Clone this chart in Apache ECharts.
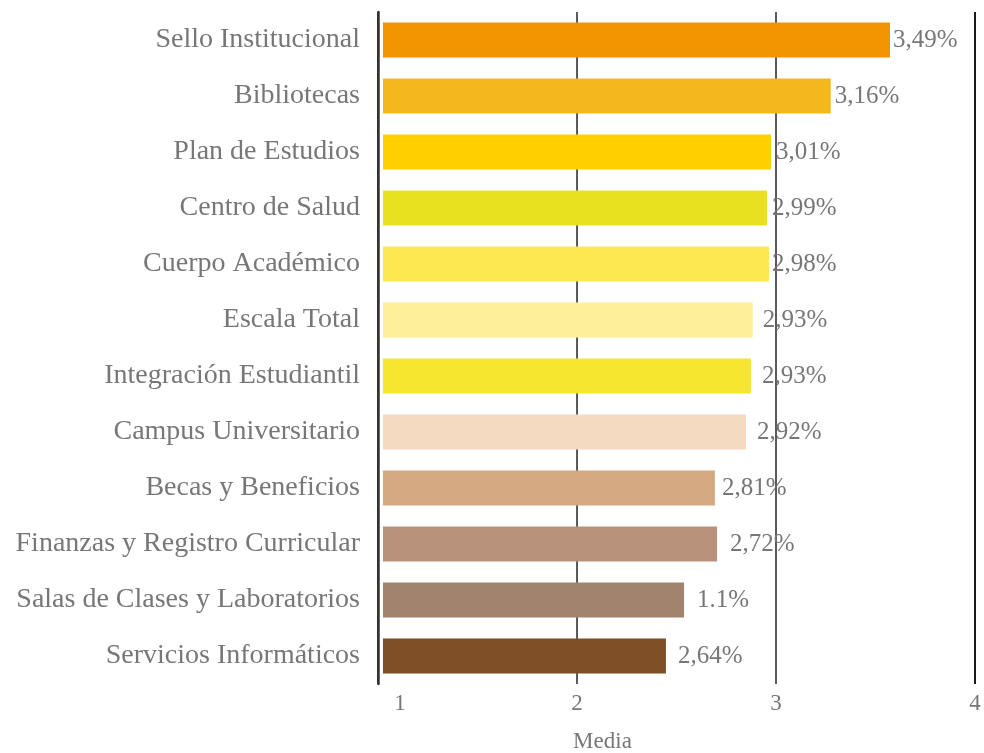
<!DOCTYPE html>
<html>
<head>
<meta charset="utf-8">
<script src="https://cdn.jsdelivr.net/npm/echarts@6/dist/echarts.min.js"></script>
<style>
  html, body { margin: 0; padding: 0; background: #fff; }
  #chart { width: 984px; height: 753px; }
</style>
</head>
<body>
<div id="chart"></div>
<script>
// categorias (de arriba hacia abajo)
const categories = [
  'Sello Institucional', 'Bibliotecas', 'Plan de Estudios', 'Centro de Salud',
  'Cuerpo Académico', 'Escala Total', 'Integración Estudiantil', 'Campus Universitario',
  'Becas y Beneficios', 'Finanzas y Registro Curricular', 'Salas de Clases y Laboratorios',
  'Servicios Informáticos'
];
// largo de cada barra
const values = [3.573, 3.275, 2.975, 2.955, 2.965, 2.883, 2.874, 2.849, 2.693, 2.704, 2.538, 2.447];
// etiquetas tal como aparecen
const valueLabels = ['3,49%', '3,16%', '3,01%', '2,99%', '2,98%', '2,93%', '2,93%', '2,92%', '2,81%', '2,72%', '1.1%', '2,64%'];
const xTicks = [1, 2, 3, 4];

// estilo
const colors = ['#F29400', '#F4B71E', '#FFD000', '#E8E120', '#FEE852', '#FEF09A',
  '#F4E52E', '#F3DAC0', '#D4A880', '#B8927B', '#A2836D', '#7F4F28'];
const labelGap = [3, 4, 5, 5, 3, 10, 11, 11, 7, 13, 13, 12];
const barStart = 1.025;   // las barras parten un poco despues del eje
const font = 'Liberation Serif';
const grey = '#777';

const chart = echarts.init(document.getElementById('chart'));
chart.setOption({
  animation: false,
  grid: { left: 378, right: 9, top: 12, bottom: 69, outerBoundsMode: 'none' },
  xAxis: {
    type: 'value',
    min: xTicks[0],
    max: xTicks[xTicks.length - 1],
    interval: 1,
    axisLine: { show: false },
    axisTick: { show: false },
    splitLine: {
      show: true,
      lineStyle: { color: ['#333', '#5a5a5a', '#5a5a5a', '#1a1a1a'], width: 2 }
    },
    axisLabel: {
      margin: 8,
      fontSize: 23,
      fontFamily: font,
      color: grey,
      formatter: v => v === xTicks[0] ? '{first|' + v + '}' : String(v),
      rich: { first: { padding: [0, 0, 0, 44], fontSize: 23, fontFamily: font, color: grey } }
    },
    name: 'Media',
    nameLocation: 'middle',
    nameGap: 46,
    nameTextStyle: { fontSize: 23, fontFamily: font, color: grey, padding: [0, 148, 0, 0] }
  },
  yAxis: {
    type: 'category',
    inverse: true,
    data: categories,
    axisLine: { lineStyle: { color: '#333', width: 2.5 } },
    axisTick: { alignWithLabel: true, length: 8, lineStyle: { color: '#333', width: 2 } },
    axisLabel: { margin: 18, fontSize: 28, fontFamily: font, color: grey }
  },
  series: [
    {
      type: 'bar',
      stack: 'm',
      silent: true,
      barWidth: 35,
      itemStyle: { color: 'transparent' },
      data: categories.map(() => barStart)
    },
    {
      type: 'bar',
      stack: 'm',
      barWidth: 35,
      data: values.map((v, i) => ({
        value: v - barStart,
        itemStyle: { color: colors[i] },
        label: { distance: labelGap[i] }
      })),
      label: {
        show: true,
        position: 'right',
        fontSize: 25,
        fontFamily: font,
        color: grey,
        formatter: p => valueLabels[p.dataIndex]
      }
    }
  ]
});
</script>
</body>
</html>
